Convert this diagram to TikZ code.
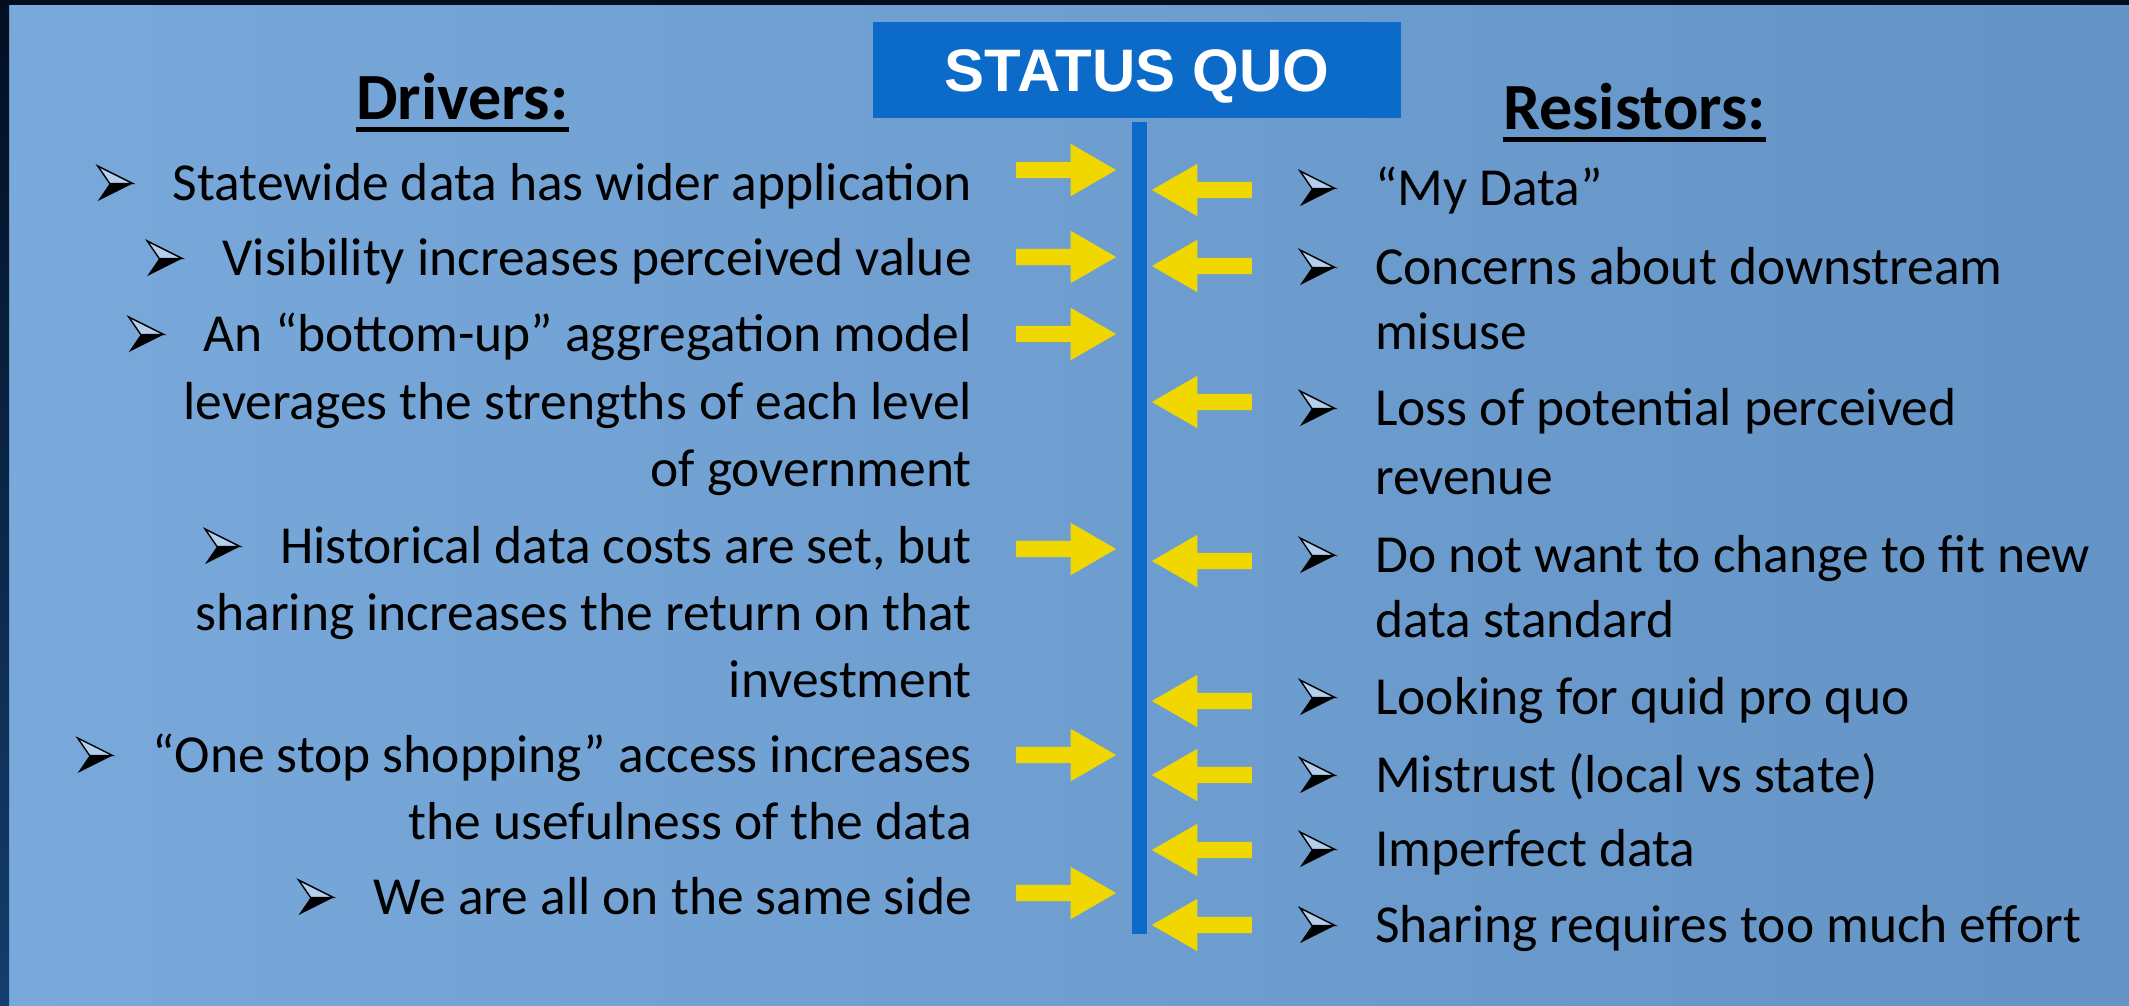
\documentclass[tikz,border=0pt]{standalone}
\usepackage{fontspec}
\setmainfont{Carlito}
\newfontfamily\titlefont{Liberation Sans}
\usetikzlibrary{shapes.arrows,positioning}

\definecolor{bgL}{RGB}{121,169,218}
\definecolor{bgM}{RGB}{118,168,219}
\definecolor{bgR}{RGB}{100,148,198}
\definecolor{frame}{RGB}{2,14,32}
\definecolor{frameB}{RGB}{20,62,110}
\definecolor{boxblue}{RGB}{12,106,200}
\definecolor{pushyellow}{RGB}{241,215,0}

\newcommand\bodyfont{\fontsize{53.5}{64}\selectfont}
\newcommand\headfont{\bfseries\fontsize{66}{70}\selectfont}

\tikzset{
  drv/.style={anchor=base east, inner sep=0pt, font=\bodyfont},
  rst/.style={anchor=base west, inner sep=0pt, font=\bodyfont},
  heading/.style={anchor=base west, inner sep=0pt, font=\headfont},
  uline/.style={line width=5pt},
  push/.style={single arrow, fill=pushyellow, draw=none, inner sep=0pt,
    text width=0pt, text height=8pt, text depth=8pt,
    minimum height=100pt, single arrow head extend=18pt,
    single arrow tip angle=60},
  pushl/.style={push, shape border rotate=180},
  % 3-D arrowhead bullet, origin at its right end on the baseline
  bullet/.pic={
    \fill[black] (-35,1) -- (0,-16.5) -- (-23,-16.5) -- cycle;
    \filldraw[fill=bgM!55!white, draw=black, line width=1.4pt, line join=miter]
      (-35,-34) -- (0,-16.5) -- (-23,-16.5) -- cycle;
  }
}

\begin{document}
\begin{tikzpicture}[x=1pt,y=-1pt]
  \useasboundingbox (0,0) rectangle (2129,1005);
  % backdrop
  \shade[left color=bgL, middle color=bgM, right color=bgR] (0,0) rectangle (2129,1005);
  \shade[top color=frame, bottom color=frameB] (0,0) rectangle (9,1005);
  \fill[frame] (0,0) rectangle (2129,5);

  % status quo
  \node[fill=boxblue, minimum width=528pt, minimum height=96pt, text=white,
        text height=43pt, text depth=0pt,
        font=\titlefont\bfseries\fontsize{60}{60}\selectfont] (sq) at (1137,70) {STATUS QUO};
  \node[fill=boxblue, minimum width=15pt, minimum height=812pt, inner sep=0pt] (bar) at (1139,528) { };

  % headings
  \node[heading] (drv) at (356,119) {Drivers:};
  \node[heading] (rst) at (1503,129) {Resistors:};
  \draw[uline] ([yshift=-10.5pt]drv.base west) -- ([yshift=-10.5pt]drv.base east);
  \draw[uline] ([yshift=-10.5pt]rst.base west) -- ([yshift=-10.5pt]rst.base east);

  % drivers
  \node[drv] (d1)  at (972,200) {Statewide data has wider application};
  \node[drv] (d2)  at (972,275) {Visibility increases perceived value};
  \node[drv] (d3)  at (972,351) {An “bottom-up” aggregation model};
  \node[drv] (d3b) at (972,419) {leverages the strengths of each level};
  \node[drv] (d3c) at (972,486) {of government};
  \node[drv] (d4)  at (972,563) {Historical data costs are set, but};
  \node[drv] (d4b) at (972,630) {sharing increases the return on that};
  \node[drv] (d4c) at (972,697) {investment};
  \node[drv] (d5)  at (972,772) {“One stop shopping” access increases};
  \node[drv] (d5b) at (972,839) {the usefulness of the data};
  \node[drv] (d6)  at (972,914) {We are all on the same side};

  \pic at ([xshift=-40pt]d1.base west) {bullet};
  \pic at ([xshift=-40pt]d2.base west) {bullet};
  \pic at ([xshift=-40pt]d3.base west) {bullet};
  \pic at ([xshift=-40pt]d4.base west) {bullet};
  \pic at ([xshift=-40pt]d5.base west) {bullet};
  \pic at ([xshift=-40pt]d6.base west) {bullet};

  % resistors
  \node[rst] (r1)  at (1375,205) {“My Data”};
  \node[rst] (r2)  at (1375,284) {Concerns about downstream};
  \node[rst] (r2b) at (1375,349) {misuse};
  \node[rst] (r3)  at (1375,425) {Loss of potential perceived};
  \node[rst] (r3b) at (1375,494) {revenue};
  \node[rst] (r4)  at (1375,572) {Do not want to change to fit new};
  \node[rst] (r4b) at (1375,637) {data standard};
  \node[rst] (r5)  at (1375,714) {Looking for quid pro quo};
  \node[rst] (r6)  at (1375,792) {Mistrust (local vs state)};
  \node[rst] (r7)  at (1375,866) {Imperfect data};
  \node[rst] (r8)  at (1375,942) {Sharing requires too much effort};

  \pic at ([xshift=-40pt]r1.base west) {bullet};
  \pic at ([xshift=-40pt]r2.base west) {bullet};
  \pic at ([xshift=-40pt]r3.base west) {bullet};
  \pic at ([xshift=-40pt]r4.base west) {bullet};
  \pic at ([xshift=-40pt]r5.base west) {bullet};
  \pic at ([xshift=-40pt]r6.base west) {bullet};
  \pic at ([xshift=-40pt]r7.base west) {bullet};
  \pic at ([xshift=-40pt]r8.base west) {bullet};

  % forces
  \node[push] (pd1) at (1059,170) { };
  \node[push] (pd2) at (1059,257) { };
  \node[push] (pd3) at (1059,334) { };
  \node[push] (pd4) at (1059,549) { };
  \node[push] (pd5) at (1059,755) { };
  \node[push] (pd6) at (1059,893) { };

  \node[pushl] (pr1) at (1209,190) { };
  \node[pushl] (pr2) at (1209,266) { };
  \node[pushl] (pr3) at (1209,402) { };
  \node[pushl] (pr4) at (1209,561) { };
  \node[pushl] (pr5) at (1209,701) { };
  \node[pushl] (pr6) at (1209,775) { };
  \node[pushl] (pr7) at (1209,850) { };
  \node[pushl] (pr8) at (1209,925) { };
\end{tikzpicture}
\end{document}
